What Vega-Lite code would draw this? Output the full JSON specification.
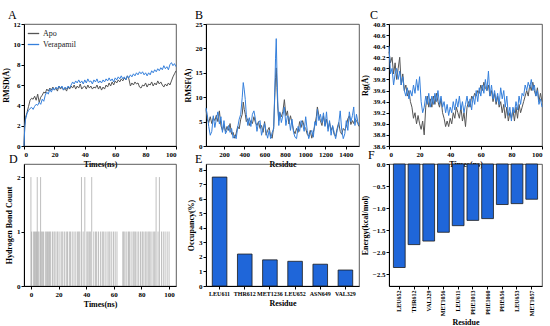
{
"$schema": "https://vega.github.io/schema/vega-lite/v6.json",
"padding": {"left": 1, "top": 8, "right": 4, "bottom": 2},
"bounds": "flush",
"columns": 3,
"spacing": {"row": 18, "column": 30},
"config": {
  "font": "Liberation Serif",
  "view": {"stroke": "#333", "strokeWidth": 0.8},
  "axis": {"grid": false, "labelFont": "Liberation Serif", "labelFontSize": 7, "labelFontWeight": "bold", "labelColor": "#000", "titleFont": "Liberation Serif", "titleFontSize": 8, "titleFontWeight": "bold", "titleColor": "#000", "domainColor": "#000", "tickColor": "#000", "tickSize": 3, "labelPadding": 1, "titlePadding": 3},
  "title": {"font": "Liberation Serif", "fontSize": 12, "fontWeight": "normal", "anchor": "start", "frame": "group", "offset": -2, "color": "#000"},
  "legend": {"orient": "top-left", "offset": 3, "padding": 0, "labelFont": "Liberation Serif", "labelFontSize": 8, "labelColor": "#222", "symbolType": "stroke", "symbolSize": 130, "symbolStrokeWidth": 1.3, "rowPadding": 0, "labelOffset": 3}
},
"datasets": {
"rmsd": [
{"t":0,"Apo":0,"Verapamil":0},{"t":0.5,"Apo":2.0,"Verapamil":1.8},{"t":1,"Apo":2.8,"Verapamil":2.6},{"t":2,"Apo":3.3,"Verapamil":3.2},{"t":3,"Apo":3.9,"Verapamil":3.5},{"t":4,"Apo":4.5,"Verapamil":3.7},{"t":5,"Apo":4.7,"Verapamil":3.8},{"t":6,"Apo":4.6,"Verapamil":3.6},{"t":7,"Apo":4.9,"Verapamil":3.9},{"t":8,"Apo":4.5,"Verapamil":4.1},{"t":9,"Apo":5.1,"Verapamil":4.0},{"t":10,"Apo":4.3,"Verapamil":4.3},{"t":11,"Apo":4.8,"Verapamil":4.1},{"t":12,"Apo":5.0,"Verapamil":4.6},{"t":13,"Apo":5.3,"Verapamil":4.4},{"t":14,"Apo":5.2,"Verapamil":5.0},{"t":15,"Apo":5.6,"Verapamil":5.3},{"t":16,"Apo":5.4,"Verapamil":5.1},{"t":17,"Apo":5.7,"Verapamil":5.6},{"t":18,"Apo":5.5,"Verapamil":5.3},{"t":19,"Apo":5.8,"Verapamil":5.7},{"t":20,"Apo":5.5,"Verapamil":5.5},{"t":21,"Apo":5.7,"Verapamil":5.8},{"t":22,"Apo":5.4,"Verapamil":5.6},{"t":23,"Apo":5.9,"Verapamil":5.9},{"t":24,"Apo":5.6,"Verapamil":5.7},{"t":25,"Apo":5.8,"Verapamil":5.9},{"t":26,"Apo":5.5,"Verapamil":5.5},{"t":27,"Apo":5.7,"Verapamil":5.8},{"t":28,"Apo":5.4,"Verapamil":5.6},{"t":29,"Apo":5.8,"Verapamil":5.9},{"t":30,"Apo":5.6,"Verapamil":5.7},{"t":31,"Apo":5.9,"Verapamil":6.0},{"t":32,"Apo":5.7,"Verapamil":6.3},{"t":33,"Apo":6.0,"Verapamil":6.1},{"t":34,"Apo":5.6,"Verapamil":6.4},{"t":35,"Apo":5.9,"Verapamil":6.2},{"t":36,"Apo":5.7,"Verapamil":6.5},{"t":37,"Apo":6.1,"Verapamil":6.2},{"t":38,"Apo":5.6,"Verapamil":6.4},{"t":39,"Apo":5.8,"Verapamil":6.1},{"t":40,"Apo":5.9,"Verapamil":6.5},{"t":41,"Apo":5.6,"Verapamil":6.2},{"t":42,"Apo":6.0,"Verapamil":6.6},{"t":43,"Apo":5.7,"Verapamil":6.3},{"t":44,"Apo":5.9,"Verapamil":6.4},{"t":45,"Apo":5.6,"Verapamil":6.1},{"t":46,"Apo":5.8,"Verapamil":6.5},{"t":47,"Apo":5.7,"Verapamil":6.3},{"t":48,"Apo":6.0,"Verapamil":6.6},{"t":49,"Apo":5.6,"Verapamil":6.2},{"t":50,"Apo":5.9,"Verapamil":6.4},{"t":51,"Apo":5.5,"Verapamil":6.2},{"t":52,"Apo":5.8,"Verapamil":6.5},{"t":53,"Apo":5.6,"Verapamil":6.3},{"t":54,"Apo":6.0,"Verapamil":6.6},{"t":55,"Apo":5.8,"Verapamil":6.4},{"t":56,"Apo":6.2,"Verapamil":6.7},{"t":57,"Apo":5.9,"Verapamil":6.4},{"t":58,"Apo":6.3,"Verapamil":6.6},{"t":59,"Apo":6.0,"Verapamil":6.3},{"t":60,"Apo":6.4,"Verapamil":6.7},{"t":61,"Apo":6.2,"Verapamil":6.5},{"t":62,"Apo":6.5,"Verapamil":6.8},{"t":63,"Apo":6.3,"Verapamil":6.6},{"t":64,"Apo":6.6,"Verapamil":6.9},{"t":65,"Apo":6.4,"Verapamil":6.6},{"t":66,"Apo":6.7,"Verapamil":6.8},{"t":67,"Apo":6.5,"Verapamil":6.5},{"t":68,"Apo":6.9,"Verapamil":6.9},{"t":69,"Apo":6.6,"Verapamil":6.7},{"t":70,"Apo":5.9,"Verapamil":7.0},{"t":71,"Apo":6.2,"Verapamil":6.8},{"t":72,"Apo":6.0,"Verapamil":7.1},{"t":73,"Apo":6.3,"Verapamil":6.9},{"t":74,"Apo":6.1,"Verapamil":7.2},{"t":75,"Apo":6.2,"Verapamil":7.0},{"t":76,"Apo":5.8,"Verapamil":7.3},{"t":77,"Apo":5.7,"Verapamil":7.1},{"t":78,"Apo":6.0,"Verapamil":7.3},{"t":79,"Apo":5.9,"Verapamil":7.0},{"t":80,"Apo":6.2,"Verapamil":7.2},{"t":81,"Apo":5.8,"Verapamil":6.9},{"t":82,"Apo":6.1,"Verapamil":7.2},{"t":83,"Apo":6.0,"Verapamil":7.0},{"t":84,"Apo":6.3,"Verapamil":7.4},{"t":85,"Apo":5.9,"Verapamil":7.2},{"t":86,"Apo":6.2,"Verapamil":7.5},{"t":87,"Apo":6.0,"Verapamil":7.3},{"t":88,"Apo":6.4,"Verapamil":7.6},{"t":89,"Apo":6.1,"Verapamil":7.4},{"t":90,"Apo":6.3,"Verapamil":7.7},{"t":91,"Apo":6.0,"Verapamil":7.5},{"t":92,"Apo":5.8,"Verapamil":7.9},{"t":93,"Apo":6.1,"Verapamil":7.6},{"t":94,"Apo":5.9,"Verapamil":7.8},{"t":95,"Apo":6.2,"Verapamil":7.5},{"t":96,"Apo":6.0,"Verapamil":8.0},{"t":97,"Apo":6.4,"Verapamil":8.2},{"t":98,"Apo":6.8,"Verapamil":7.9},{"t":99,"Apo":7.1,"Verapamil":8.1},{"t":100,"Apo":7.4,"Verapamil":7.8}
],
"rmsf": [
{"r":23,"Apo":7.5,"Verapamil":7.8},{"r":35,"Apo":5.5,"Verapamil":6.5},{"r":50,"Apo":4.8,"Verapamil":4.0},{"r":65,"Apo":6.0,"Verapamil":2.2},{"r":80,"Apo":4.6,"Verapamil":3.0},{"r":95,"Apo":5.8,"Verapamil":6.2},{"r":110,"Apo":5.2,"Verapamil":3.8},{"r":125,"Apo":6.3,"Verapamil":5.5},{"r":140,"Apo":5.0,"Verapamil":7.0},{"r":155,"Apo":7.2,"Verapamil":4.5},{"r":170,"Apo":4.2,"Verapamil":6.0},{"r":185,"Apo":3.2,"Verapamil":2.8},{"r":200,"Apo":4.3,"Verapamil":5.2},{"r":215,"Apo":3.0,"Verapamil":2.5},{"r":230,"Apo":4.0,"Verapamil":3.2},{"r":245,"Apo":3.2,"Verapamil":4.2},{"r":260,"Apo":4.6,"Verapamil":2.8},{"r":275,"Apo":2.4,"Verapamil":3.6},{"r":290,"Apo":2.8,"Verapamil":1.6},{"r":305,"Apo":1.6,"Verapamil":2.2},{"r":320,"Apo":2.6,"Verapamil":1.5},{"r":335,"Apo":4.0,"Verapamil":3.8},{"r":350,"Apo":3.5,"Verapamil":5.5},{"r":365,"Apo":5.5,"Verapamil":6.5},{"r":380,"Apo":6.5,"Verapamil":10.0},{"r":390,"Apo":9.0,"Verapamil":13.0},{"r":400,"Apo":7.5,"Verapamil":11.5},{"r":410,"Apo":6.5,"Verapamil":9.5},{"r":420,"Apo":5.0,"Verapamil":6.5},{"r":435,"Apo":5.6,"Verapamil":4.2},{"r":450,"Apo":4.2,"Verapamil":5.8},{"r":465,"Apo":5.2,"Verapamil":4.0},{"r":480,"Apo":4.6,"Verapamil":6.5},{"r":495,"Apo":6.0,"Verapamil":7.2},{"r":510,"Apo":4.8,"Verapamil":5.5},{"r":525,"Apo":4.2,"Verapamil":3.0},{"r":540,"Apo":5.0,"Verapamil":4.8},{"r":555,"Apo":3.6,"Verapamil":5.2},{"r":570,"Apo":4.2,"Verapamil":2.2},{"r":585,"Apo":2.8,"Verapamil":3.6},{"r":600,"Apo":5.0,"Verapamil":4.6},{"r":615,"Apo":2.2,"Verapamil":3.0},{"r":630,"Apo":3.2,"Verapamil":1.6},{"r":645,"Apo":3.8,"Verapamil":3.2},{"r":660,"Apo":2.0,"Verapamil":1.5},{"r":675,"Apo":1.6,"Verapamil":2.8},{"r":690,"Apo":4.0,"Verapamil":3.5},{"r":700,"Apo":10.0,"Verapamil":11.0},{"r":708,"Apo":14.0,"Verapamil":18.0},{"r":715,"Apo":16.0,"Verapamil":22.0},{"r":722,"Apo":12.0,"Verapamil":15.0},{"r":730,"Apo":8.0,"Verapamil":9.0},{"r":740,"Apo":5.2,"Verapamil":4.2},{"r":750,"Apo":6.8,"Verapamil":7.0},{"r":765,"Apo":6.0,"Verapamil":4.8},{"r":780,"Apo":7.0,"Verapamil":6.2},{"r":795,"Apo":9.5,"Verapamil":8.0},{"r":810,"Apo":6.2,"Verapamil":4.2},{"r":825,"Apo":7.2,"Verapamil":6.2},{"r":840,"Apo":4.5,"Verapamil":5.8},{"r":855,"Apo":6.2,"Verapamil":3.2},{"r":870,"Apo":4.8,"Verapamil":5.5},{"r":885,"Apo":3.2,"Verapamil":2.8},{"r":900,"Apo":2.5,"Verapamil":1.8},{"r":915,"Apo":3.6,"Verapamil":1.5},{"r":930,"Apo":2.8,"Verapamil":4.0},{"r":945,"Apo":5.0,"Verapamil":3.0},{"r":960,"Apo":3.8,"Verapamil":5.2},{"r":975,"Apo":5.2,"Verapamil":4.5},{"r":990,"Apo":4.0,"Verapamil":3.0},{"r":1005,"Apo":3.6,"Verapamil":6.0},{"r":1020,"Apo":2.4,"Verapamil":3.2},{"r":1035,"Apo":2.0,"Verapamil":1.5},{"r":1050,"Apo":3.2,"Verapamil":2.6},{"r":1065,"Apo":1.6,"Verapamil":3.2},{"r":1080,"Apo":2.8,"Verapamil":1.8},{"r":1095,"Apo":4.2,"Verapamil":5.0},{"r":1110,"Apo":6.0,"Verapamil":4.2},{"r":1120,"Apo":8.0,"Verapamil":7.5},{"r":1135,"Apo":6.2,"Verapamil":5.2},{"r":1150,"Apo":5.2,"Verapamil":6.5},{"r":1165,"Apo":4.2,"Verapamil":4.8},{"r":1180,"Apo":6.2,"Verapamil":6.8},{"r":1195,"Apo":4.2,"Verapamil":4.0},{"r":1210,"Apo":5.5,"Verapamil":7.0},{"r":1225,"Apo":3.6,"Verapamil":3.0},{"r":1240,"Apo":4.8,"Verapamil":5.2},{"r":1255,"Apo":3.2,"Verapamil":2.2},{"r":1270,"Apo":4.0,"Verapamil":4.2},{"r":1285,"Apo":2.4,"Verapamil":2.8},{"r":1300,"Apo":2.0,"Verapamil":1.5},{"r":1315,"Apo":3.6,"Verapamil":3.2},{"r":1330,"Apo":4.8,"Verapamil":4.5},{"r":1345,"Apo":3.0,"Verapamil":7.2},{"r":1360,"Apo":2.4,"Verapamil":3.2},{"r":1375,"Apo":3.6,"Verapamil":1.5},{"r":1390,"Apo":3.2,"Verapamil":2.5},{"r":1405,"Apo":4.0,"Verapamil":5.2},{"r":1420,"Apo":5.6,"Verapamil":3.2},{"r":1435,"Apo":6.2,"Verapamil":7.0},{"r":1450,"Apo":4.4,"Verapamil":5.0},{"r":1465,"Apo":5.2,"Verapamil":6.2},{"r":1478,"Apo":4.6,"Verapamil":8.0},{"r":1490,"Apo":5.6,"Verapamil":4.2},{"r":1505,"Apo":5.2,"Verapamil":6.5},{"r":1518,"Apo":4.6,"Verapamil":5.0},{"r":1530,"Apo":4.0,"Verapamil":4.2}
],
"rg": [
{"t":0,"Apo":40.3,"Verapamil":40.4},{"t":1,"Apo":40.1,"Verapamil":39.9},{"t":2,"Apo":40.2,"Verapamil":40.0},{"t":3,"Apo":39.9,"Verapamil":39.7},{"t":4,"Apo":40.1,"Verapamil":39.9},{"t":5,"Apo":39.8,"Verapamil":40.0},{"t":6,"Apo":40.0,"Verapamil":39.8},{"t":7,"Apo":40.2,"Verapamil":39.95},{"t":8,"Apo":39.7,"Verapamil":39.7},{"t":9,"Apo":39.9,"Verapamil":39.85},{"t":10,"Apo":39.6,"Verapamil":39.6},{"t":11,"Apo":39.7,"Verapamil":39.5},{"t":12,"Apo":39.5,"Verapamil":39.65},{"t":13,"Apo":39.6,"Verapamil":39.45},{"t":14,"Apo":39.4,"Verapamil":39.6},{"t":15,"Apo":39.3,"Verapamil":39.5},{"t":16,"Apo":39.1,"Verapamil":39.7},{"t":17,"Apo":39.2,"Verapamil":39.55},{"t":18,"Apo":39.0,"Verapamil":39.8},{"t":19,"Apo":39.15,"Verapamil":39.6},{"t":20,"Apo":39.0,"Verapamil":39.85},{"t":21,"Apo":38.9,"Verapamil":39.4},{"t":22,"Apo":39.05,"Verapamil":39.2},{"t":23,"Apo":38.8,"Verapamil":39.3},{"t":24,"Apo":39.3,"Verapamil":39.5},{"t":25,"Apo":39.5,"Verapamil":39.35},{"t":26,"Apo":39.3,"Verapamil":39.55},{"t":27,"Apo":39.45,"Verapamil":39.3},{"t":28,"Apo":39.3,"Verapamil":39.5},{"t":29,"Apo":39.5,"Verapamil":39.35},{"t":30,"Apo":39.35,"Verapamil":39.55},{"t":31,"Apo":39.55,"Verapamil":39.4},{"t":32,"Apo":39.4,"Verapamil":39.6},{"t":33,"Apo":39.3,"Verapamil":39.35},{"t":34,"Apo":39.45,"Verapamil":39.5},{"t":35,"Apo":39.2,"Verapamil":39.3},{"t":36,"Apo":39.1,"Verapamil":39.4},{"t":37,"Apo":38.95,"Verapamil":39.2},{"t":38,"Apo":39.05,"Verapamil":39.35},{"t":39,"Apo":38.95,"Verapamil":39.15},{"t":40,"Apo":39.1,"Verapamil":39.3},{"t":41,"Apo":39.0,"Verapamil":39.2},{"t":42,"Apo":39.2,"Verapamil":39.4},{"t":43,"Apo":39.1,"Verapamil":39.25},{"t":44,"Apo":39.3,"Verapamil":39.45},{"t":45,"Apo":39.2,"Verapamil":39.3},{"t":46,"Apo":39.1,"Verapamil":39.5},{"t":47,"Apo":39.3,"Verapamil":39.25},{"t":48,"Apo":39.05,"Verapamil":39.4},{"t":49,"Apo":39.2,"Verapamil":39.2},{"t":50,"Apo":38.95,"Verapamil":39.35},{"t":51,"Apo":39.3,"Verapamil":39.5},{"t":52,"Apo":39.4,"Verapamil":39.3},{"t":53,"Apo":39.3,"Verapamil":39.45},{"t":54,"Apo":39.5,"Verapamil":39.25},{"t":55,"Apo":39.45,"Verapamil":39.5},{"t":56,"Apo":39.55,"Verapamil":39.35},{"t":57,"Apo":39.5,"Verapamil":39.6},{"t":58,"Apo":39.6,"Verapamil":39.4},{"t":59,"Apo":39.55,"Verapamil":39.65},{"t":60,"Apo":39.7,"Verapamil":39.5},{"t":61,"Apo":39.6,"Verapamil":39.7},{"t":62,"Apo":39.75,"Verapamil":39.55},{"t":63,"Apo":39.65,"Verapamil":39.8},{"t":64,"Apo":39.6,"Verapamil":39.6},{"t":65,"Apo":39.7,"Verapamil":39.95},{"t":66,"Apo":39.5,"Verapamil":39.5},{"t":67,"Apo":39.6,"Verapamil":39.7},{"t":68,"Apo":39.4,"Verapamil":39.45},{"t":69,"Apo":39.55,"Verapamil":39.6},{"t":70,"Apo":39.35,"Verapamil":39.4},{"t":71,"Apo":39.5,"Verapamil":39.55},{"t":72,"Apo":39.3,"Verapamil":39.35},{"t":73,"Apo":39.4,"Verapamil":39.65},{"t":74,"Apo":39.2,"Verapamil":39.45},{"t":75,"Apo":39.35,"Verapamil":39.6},{"t":76,"Apo":39.1,"Verapamil":39.3},{"t":77,"Apo":39.3,"Verapamil":39.5},{"t":78,"Apo":39.05,"Verapamil":39.15},{"t":79,"Apo":39.2,"Verapamil":39.3},{"t":80,"Apo":39.1,"Verapamil":39.05},{"t":81,"Apo":39.25,"Verapamil":39.3},{"t":82,"Apo":39.05,"Verapamil":39.2},{"t":83,"Apo":39.3,"Verapamil":39.4},{"t":84,"Apo":39.1,"Verapamil":39.25},{"t":85,"Apo":39.35,"Verapamil":39.5},{"t":86,"Apo":39.2,"Verapamil":39.35},{"t":87,"Apo":39.3,"Verapamil":39.55},{"t":88,"Apo":39.4,"Verapamil":39.5},{"t":89,"Apo":39.5,"Verapamil":39.7},{"t":90,"Apo":39.6,"Verapamil":39.6},{"t":91,"Apo":39.5,"Verapamil":39.75},{"t":92,"Apo":39.7,"Verapamil":39.65},{"t":93,"Apo":39.6,"Verapamil":39.8},{"t":94,"Apo":39.75,"Verapamil":39.6},{"t":95,"Apo":39.6,"Verapamil":39.7},{"t":96,"Apo":39.5,"Verapamil":39.5},{"t":97,"Apo":39.65,"Verapamil":39.6},{"t":98,"Apo":39.4,"Verapamil":39.35},{"t":99,"Apo":39.55,"Verapamil":39.45},{"t":100,"Apo":39.4,"Verapamil":39.3}
],
"hb": [
{"t":0,"c":2},{"t":4.6,"c":2},{"t":7,"c":2},{"t":36.6,"c":2},{"t":39,"c":2},{"t":44,"c":2},{"t":90.6,"c":2},{"t":93,"c":2},
{"t":0.5,"c":1},{"t":1.8,"c":1},{"t":2.6,"c":1},{"t":3.3,"c":1},{"t":4.1,"c":1},{"t":5.2,"c":1},{"t":5.9,"c":1},{"t":7.5,"c":1},{"t":8.3,"c":1},{"t":9.1,"c":1},{"t":10.4,"c":1},{"t":11.2,"c":1},{"t":12.0,"c":1},{"t":12.8,"c":1},{"t":13.5,"c":1},{"t":14.3,"c":1},{"t":15.6,"c":1},{"t":16.7,"c":1},{"t":17.5,"c":1},{"t":18.9,"c":1},{"t":19.6,"c":1},{"t":21.0,"c":1},{"t":22.3,"c":1},{"t":23.1,"c":1},{"t":24.4,"c":1},{"t":25.6,"c":1},{"t":26.5,"c":1},{"t":27.8,"c":1},{"t":28.6,"c":1},{"t":29.9,"c":1},{"t":31.2,"c":1},{"t":32.5,"c":1},{"t":33.8,"c":1},{"t":34.6,"c":1},{"t":35.4,"c":1},{"t":37.8,"c":1},{"t":40.5,"c":1},{"t":41.3,"c":1},{"t":42.2,"c":1},{"t":43.0,"c":1},{"t":45.5,"c":1},{"t":46.8,"c":1},{"t":47.6,"c":1},{"t":48.9,"c":1},{"t":50.3,"c":1},{"t":51.6,"c":1},{"t":52.4,"c":1},{"t":53.7,"c":1},{"t":55.1,"c":1},{"t":56.4,"c":1},{"t":57.2,"c":1},{"t":58.5,"c":1},{"t":59.8,"c":1},{"t":61.0,"c":1},{"t":62.3,"c":1},{"t":66.5,"c":1},{"t":67.2,"c":1},{"t":68.1,"c":1},{"t":69.4,"c":1},{"t":70.6,"c":1},{"t":71.3,"c":1},{"t":72.5,"c":1},{"t":73.9,"c":1},{"t":74.7,"c":1},{"t":75.6,"c":1},{"t":76.8,"c":1},{"t":78.0,"c":1},{"t":79.3,"c":1},{"t":80.5,"c":1},{"t":81.2,"c":1},{"t":82.6,"c":1},{"t":83.4,"c":1},{"t":84.7,"c":1},{"t":85.5,"c":1},{"t":86.3,"c":1},{"t":87.6,"c":1},{"t":88.9,"c":1},{"t":89.7,"c":1},{"t":92.0,"c":1},{"t":94.5,"c":1},{"t":95.8,"c":1},{"t":97.1,"c":1},{"t":98.6,"c":1},{"t":100.0,"c":1}
],
"occ": [
{"res":"LEU611","v":7.5},{"res":"THR612","v":2.2},{"res":"MET1236","v":1.8},{"res":"LEU652","v":1.7},{"res":"ASN649","v":1.5},{"res":"VAL329","v":1.1}
],
"energy": [
{"res":"LEU652","v":-2.35},{"res":"THR612","v":-1.83},{"res":"VAL329","v":-1.75},{"res":"MET1056","v":-1.55},{"res":"LEU611","v":-1.40},{"res":"PHE1013","v":-1.28},{"res":"PHE1060","v":-1.24},{"res":"PHE656","v":-0.92},{"res":"LEU653","v":-0.90},{"res":"MET1057","v":-0.80}
]
},
"concat": [
{
 "width": 152, "height": 122,
 "title": {"text": "A", "dx": -16},
 "data": {"name": "rmsd"},
 "transform": [{"fold": ["Apo", "Verapamil"], "as": ["s", "v"]}],
 "mark": {"type": "line", "strokeWidth": 1},
 "encoding": {
  "x": {"field": "t", "type": "quantitative", "scale": {"domain": [0, 100], "nice": false}, "axis": {"title": "Times(ns)", "values": [0, 20, 40, 60, 80, 100]}},
  "y": {"field": "v", "type": "quantitative", "scale": {"domain": [0, 12], "nice": false}, "axis": {"title": "RMSD(Å)", "values": [0, 2, 4, 6, 8, 10, 12]}},
  "color": {"field": "s", "type": "nominal", "scale": {"domain": ["Apo", "Verapamil"], "range": ["#555555", "#3580dc"]}, "legend": {"title": null}}
 }
},
{
 "width": 153, "height": 122,
 "title": {"text": "B", "dx": -11},
 "data": {"name": "rmsf"},
 "transform": [{"fold": ["Apo", "Verapamil"], "as": ["s", "v"]}],
 "mark": {"type": "line", "strokeWidth": 1},
 "encoding": {
  "x": {"field": "r", "type": "quantitative", "scale": {"domain": [23, 1530], "nice": false}, "axis": {"title": "Residue", "format": "d", "values": [200, 400, 600, 800, 1000, 1200, 1400]}},
  "y": {"field": "v", "type": "quantitative", "scale": {"domain": [0, 25], "nice": false}, "axis": {"title": "RMSF(Å)", "values": [0, 5, 10, 15, 20, 25]}},
  "color": {"field": "s", "type": "nominal", "scale": {"domain": ["Apo", "Verapamil"], "range": ["#555555", "#3580dc"]}, "legend": {"title": null}}
 }
},
{
 "width": 153, "height": 122,
 "title": {"text": "C", "dx": -19},
 "data": {"name": "rg"},
 "transform": [{"fold": ["Apo", "Verapamil"], "as": ["s", "v"]}],
 "mark": {"type": "line", "strokeWidth": 1},
 "encoding": {
  "x": {"field": "t", "type": "quantitative", "scale": {"domain": [0, 100], "nice": false}, "axis": {"title": "Times(ns)", "values": [0, 20, 40, 60, 80, 100]}},
  "y": {"field": "v", "type": "quantitative", "scale": {"domain": [38.6, 40.8], "nice": false, "zero": false}, "axis": {"title": "Rg(Å)", "format": ".1f", "values": [38.6, 38.8, 39.0, 39.2, 39.4, 39.6, 39.8, 40.0, 40.2, 40.4, 40.6, 40.8]}},
  "color": {"field": "s", "type": "nominal", "scale": {"domain": ["Apo", "Verapamil"], "range": ["#555555", "#3580dc"]}, "legend": {"title": null}}
 }
},
{
 "width": 152, "height": 122,
 "title": {"text": "D", "dx": -15},
 "data": {"name": "hb"},
 "mark": {"type": "rule", "color": "#888888", "opacity": 0.6, "strokeWidth": 0.9},
 "encoding": {
  "x": {"field": "t", "type": "quantitative", "scale": {"domain": [-5, 105], "nice": false}, "axis": {"title": "Times(ns)", "values": [0, 20, 40, 60, 80, 100]}},
  "y": {"field": "c", "type": "quantitative", "scale": {"domain": [0, 2.24], "nice": false}, "axis": {"title": "Hydrogen Bond Count", "values": [0, 1, 2]}},
  "y2": {"datum": 0}
 }
},
{
 "width": 153, "height": 122,
 "title": {"text": "E", "dx": -11},
 "data": {"name": "occ"},
 "mark": {"type": "bar", "color": "#1f66d9", "stroke": "#1a1a1a", "strokeWidth": 0.8},
 "encoding": {
  "x": {"field": "res", "type": "nominal", "sort": null, "scale": {"paddingInner": 0.42, "paddingOuter": 0.25}, "axis": {"title": "Residue", "labelAngle": 0, "labelFontSize": 6}},
  "y": {"field": "v", "type": "quantitative", "scale": {"domain": [0, 8.4], "nice": false}, "axis": {"title": "Occupancy(%)", "values": [0, 1, 2, 3, 4, 5, 6, 7, 8]}}
 }
},
{
 "width": 153, "height": 122,
 "title": {"text": "F", "dx": -21},
 "data": {"name": "energy"},
 "mark": {"type": "bar", "color": "#1f66d9", "stroke": "#1a1a1a", "strokeWidth": 0.8},
 "encoding": {
  "x": {"field": "res", "type": "nominal", "sort": null, "scale": {"paddingInner": 0.2, "paddingOuter": 0.3}, "axis": {"title": "Residue", "labelAngle": -90, "labelFontSize": 6}},
  "y": {"field": "v", "type": "quantitative", "scale": {"domain": [-2.77, 0], "nice": false, "zero": false}, "axis": {"title": "Energy(kcal/mol)", "format": ".1f", "values": [0, -0.5, -1, -1.5, -2, -2.5]}}
 }
}
]
}
